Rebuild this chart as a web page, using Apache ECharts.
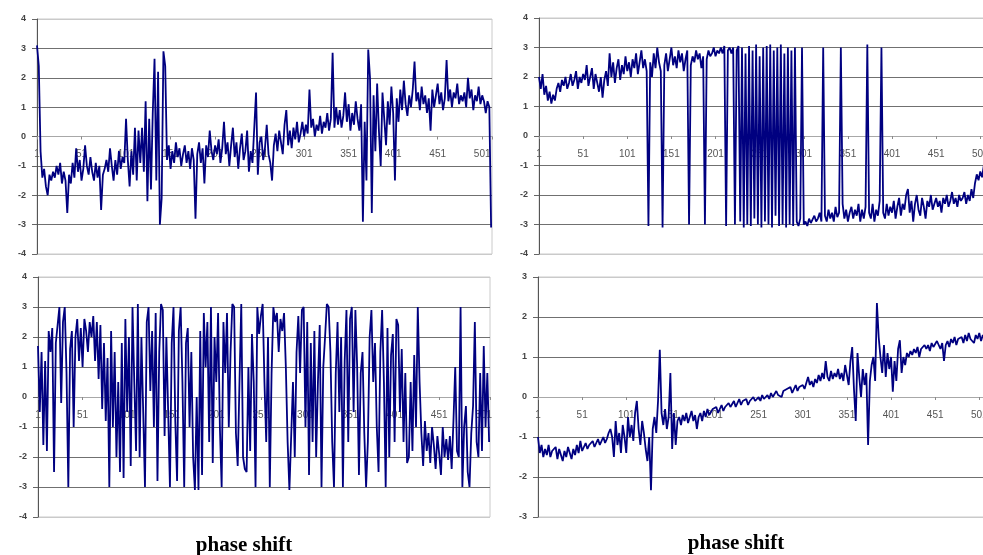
<!DOCTYPE html>
<html>
<head>
<meta charset="utf-8">
<script src="https://cdn.jsdelivr.net/npm/echarts@6/dist/echarts.min.js"></script>
<style>
html,body{margin:0;padding:0;background:#fff;}
#chart{width:983px;height:555px;}
</style>
</head>
<body>
<div id="chart"></div>
<script>
// x tick labels (category numbers), one tick every 50 samples
const xTickLabels = ['1','51','101','151','201','251','301','351','401','451','501'];
const yTicksTop = [-4,-3,-2,-1,0,1,2,3,4];
const yTicksBR = [-3,-2,-1,0,1,2,3];
const titles = ['phase shift','phase shift'];
const sampleStep = 2; // every value below is one reading per 2 samples

const topLeftValues = [
3.1,2.4,-0.5,-1.4,-1.1,-1.7,-2.0,-1.3,-1.5,-1.2,
-1.4,-1.0,-1.3,-0.9,-1.6,-1.2,-1.5,-2.6,-1.3,-1.6,
-0.9,-1.4,-0.4,-1.2,-0.8,-1.5,-1.1,-0.3,-1.0,-1.3,
-0.7,-1.2,-1.5,-0.9,-1.4,-1.0,-2.5,-1.3,-1.1,-0.8,
-1.2,-0.4,-1.0,-1.5,-0.8,-1.3,-0.5,-1.1,-0.7,-0.9,
0.6,-0.8,-1.7,-0.5,-1.3,0.3,-1.5,0.2,-0.9,0.3,
-1.2,1.2,-2.2,0.6,-1.8,0.8,2.65,-1.5,2.2,-3.0,
-2.1,2.9,2.4,-0.8,-0.3,-1.1,-0.5,-0.9,-0.2,-0.7,
-0.4,-1.0,-0.6,-0.3,-0.9,-0.5,-1.1,-0.4,-0.8,-2.8,
-0.6,-0.2,-0.9,-0.4,-1.6,-0.3,-0.7,0.2,-0.5,-0.8,
-0.3,-0.6,-0.1,-0.9,-0.4,0.5,-0.6,-0.2,-1.0,-0.3,
0.3,-0.7,-0.2,-1.1,-0.4,0.1,-0.8,-0.5,0.2,-1.2,
-0.5,-0.9,0.3,1.5,-1.3,-0.2,0.0,-0.8,-0.4,0.4,
-0.6,-0.9,-1.5,-0.3,0.1,-0.5,0.2,-0.2,-0.6,0.4,
0.9,-0.3,0.2,-0.4,0.3,-0.1,0.5,-0.2,0.1,0.5,
0.0,0.4,0.1,1.6,0.3,0.6,0.0,0.4,0.2,0.7,
0.1,0.5,0.3,0.8,0.2,0.6,2.85,0.3,1.0,0.4,
0.9,0.3,0.7,1.5,0.5,1.1,0.2,0.8,0.4,1.2,
0.6,0.2,1.1,-2.9,0.5,-1.5,2.96,2.0,-2.6,1.4,
-0.5,1.8,0.2,-1.0,1.5,0.6,-0.3,1.2,0.4,1.7,
0.8,-1.5,1.3,0.5,1.6,0.9,1.9,1.1,0.7,1.4,
1.0,1.6,2.55,1.2,1.5,0.9,1.7,1.1,1.4,0.8,
1.3,0.2,1.6,1.0,1.4,1.8,1.1,1.5,0.9,1.3,
2.6,1.2,1.6,1.0,1.5,1.3,1.8,1.1,1.4,1.2,
1.5,1.0,2.0,1.3,1.6,0.9,1.4,1.2,1.7,1.1,
1.4,1.2,0.8,1.2,1.0,-3.1
];

const topRightValues = [
2.0,1.6,2.1,1.4,1.7,1.2,1.5,1.1,1.4,1.2,
1.6,1.8,1.5,1.9,1.7,2.0,1.6,1.8,2.1,1.7,
1.9,2.2,1.6,2.0,1.8,2.1,1.9,2.4,1.7,2.0,
2.3,1.6,2.1,1.8,1.5,2.0,1.3,1.9,2.2,1.7,
2.8,2.0,2.5,1.8,2.3,2.6,1.9,2.4,2.1,2.7,
2.2,2.5,2.0,2.6,2.3,2.8,2.1,2.5,2.9,2.3,
2.6,2.2,-3.05,2.5,2.0,2.8,2.3,3.0,2.5,2.2,
-3.1,2.4,2.8,2.2,2.6,3.0,2.4,2.7,2.3,2.9,
2.5,2.8,2.2,2.6,2.9,-3.0,2.4,2.7,2.5,2.9,
2.6,2.8,2.3,2.7,-3.0,2.6,2.9,2.7,2.8,3.0,
2.7,2.9,2.8,3.0,2.8,3.05,-3.05,2.9,3.0,2.8,
3.0,-3.0,2.9,3.05,-2.9,3.0,-3.1,2.8,-3.0,3.05,
-3.05,2.9,-2.8,3.1,-3.0,2.7,-3.1,3.0,-2.9,3.05,
-3.0,3.1,-3.1,2.9,-2.7,3.0,-3.05,3.1,-3.0,2.8,
-3.1,3.0,-3.0,2.9,-3.05,3.0,-2.9,-3.05,-2.8,3.0,
-3.0,-2.9,-3.05,-2.8,-2.95,-3.0,-2.7,-2.9,-2.8,-2.6,
-2.9,3.0,-2.7,-2.9,-2.5,-2.8,-2.6,-2.9,-2.4,-2.75,
-2.6,3.0,-2.3,-2.8,-2.5,-2.9,-2.6,-2.4,-2.8,-2.5,
-2.7,-2.3,-2.9,-2.5,-2.8,-2.4,3.1,-2.6,-2.8,-2.3,
-2.9,-2.5,-2.7,-2.2,3.0,-2.6,-2.8,-2.3,-2.7,-2.4,
-2.6,-2.2,-2.8,-2.4,-2.1,-2.7,-2.3,-2.5,-2.0,-1.8,
-2.6,-2.2,-2.9,-2.3,-2.0,-2.5,-2.7,-2.1,-2.4,-2.8,
-2.2,-2.4,-2.0,-2.5,-2.3,-2.1,-2.4,-2.2,-2.6,-2.1,
-2.3,-2.0,-2.4,-2.2,-1.9,-2.3,-2.1,-2.4,-2.0,-2.2,
-2.1,-1.9,-2.3,-2.0,-2.2,-1.8,-2.1,-1.6,-1.3,-1.5,
-1.2,-1.4,-1.0,-1.3,-1.1,-1.2
];

const bottomLeftValues = [
1.7,-0.5,1.5,-1.6,1.2,-1.8,2.2,1.5,2.3,-2.5,
1.8,2.4,3.0,-0.2,2.5,3.0,0.8,-3.0,1.6,2.2,
-1.0,2.0,2.6,1.2,2.3,1.0,2.6,2.2,1.5,2.5,
2.0,2.7,1.2,2.5,0.6,2.4,-0.4,1.8,-0.8,1.3,
-3.0,2.2,-1.0,1.5,-2.0,0.5,-2.5,1.8,-2.7,2.6,
-0.5,2.0,-2.3,3.0,0.5,-1.8,3.1,-2.0,2.0,-0.5,
-3.0,2.5,3.0,0.2,2.2,-1.0,2.8,-2.8,1.5,3.1,
2.9,-1.3,2.0,-0.5,-3.0,1.8,3.0,-0.8,-2.8,2.2,
3.0,0.5,-3.0,1.8,2.3,-1.0,1.5,-2.0,-3.1,0.0,
-3.1,2.2,-2.6,2.8,1.0,2.5,-1.5,3.0,-2.2,2.0,
0.5,2.8,-1.0,-3.0,2.5,0.8,2.8,-1.0,1.5,3.1,
3.0,-1.2,-2.3,0.5,3.1,-2.0,-2.4,-2.5,1.0,-1.8,
2.1,0.5,-3.0,3.0,2.1,2.7,3.1,0.5,-1.5,2.0,
-3.0,0.8,3.0,2.5,2.8,1.5,2.6,2.2,2.8,1.0,
-1.5,-3.1,-3.1,0.5,-2.0,1.5,2.7,0.8,2.9,3.0,
-1.0,2.5,-2.6,1.8,-1.5,2.2,-2.0,0.5,2.4,-3.0,
1.0,2.0,3.1,3.0,1.5,-1.5,-3.0,0.8,2.5,-0.5,
2.0,-3.0,1.2,2.9,-1.5,2.6,3.0,-0.5,2.9,1.0,
-2.6,0.8,1.5,-1.2,-3.0,-1.5,2.0,2.9,0.5,1.8,
-1.0,-2.5,1.5,2.9,0.5,-3.0,2.3,-2.0,1.4,2.1,
-1.5,2.6,2.4,-0.5,1.6,-1.5,0.8,-2.2,-2.0,0.5,
-1.8,1.4,-1.0,3.0,0.5,-1.2,-2.3,-0.8,-1.8,-1.2,
-2.2,-1.0,-1.6,-2.4,-1.3,-1.9,-2.6,-1.0,-2.0,-1.4,
-2.1,-1.3,-2.4,-0.8,1.0,-1.8,-2.0,3.0,-3.0,-1.0,
-0.3,-2.5,-3.0,-1.2,-0.3,2.5,-1.5,-2.0,0.8,-1.8,
1.7,-1.0,0.8,-1.5
];

const bottomRightValues = [
-1.0,-1.4,-1.2,-1.5,-1.3,-1.45,-1.2,-1.5,-1.35,-1.4,
-1.25,-1.55,-1.3,-1.45,-1.6,-1.35,-1.5,-1.25,-1.4,-1.55,
-1.3,-1.45,-1.2,-1.4,-1.1,-1.35,-1.25,-1.15,-1.3,-1.2,
-1.2,-1.1,-1.25,-1.15,-1.05,-1.2,-1.1,-1.0,-1.15,-1.05,
-0.9,-0.8,-1.0,-1.5,-0.6,-1.2,-0.9,-1.4,-0.7,-1.0,
-1.4,-0.5,-1.0,-0.7,-1.1,-0.4,-0.1,-0.8,-1.2,-0.6,
-0.9,-1.3,-1.6,-1.0,-2.33,-0.8,-0.5,-0.9,-0.1,1.18,
-0.4,-0.7,-0.3,-0.8,-0.5,0.6,-1.3,-0.4,-1.2,-0.6,
-0.5,-0.7,-0.45,-0.6,-0.4,-0.65,-0.5,-0.35,-0.6,-0.45,
-0.8,-0.5,-0.4,-0.6,-0.35,-0.5,-0.3,-0.45,-0.4,-0.3,
-0.35,-0.25,-0.4,-0.3,-0.2,-0.35,-0.25,-0.3,-0.15,-0.25,
-0.2,-0.1,-0.25,-0.15,-0.05,-0.2,-0.1,-0.15,-0.05,-0.2,
-0.1,-0.15,0.0,-0.1,-0.05,0.0,-0.1,0.05,-0.05,0.0,
0.05,-0.05,0.1,0.0,0.05,0.15,0.05,0.1,0.0,0.15,
0.1,0.2,0.15,0.25,0.1,0.2,0.3,0.15,0.25,0.2,
0.3,0.2,0.35,0.5,0.3,0.4,0.25,0.45,0.35,0.55,
0.4,0.6,0.45,0.9,0.5,0.4,0.65,0.45,0.6,0.5,
0.7,0.45,0.6,0.4,0.8,0.55,0.3,0.9,1.25,0.2,
-0.6,1.1,0.5,0.0,0.7,0.3,0.6,-1.2,0.4,0.8,
1.0,0.4,2.35,1.5,1.0,0.6,1.3,0.5,1.1,0.7,
1.0,0.13,0.9,0.4,1.2,1.42,0.6,1.0,0.8,1.1,
1.0,1.15,1.05,1.2,1.1,1.25,1.0,1.2,1.15,1.3,
1.2,1.3,1.15,1.35,1.25,1.2,1.4,1.3,1.2,1.35,
0.9,1.3,1.4,1.25,1.45,1.35,1.5,1.3,1.45,1.4,
1.5,1.35,1.55,1.4,1.6,1.45,1.5,1.35,1.55,1.45,
1.6,1.4,1.55,1.45,1.5,1.4
];

const chart = echarts.init(document.getElementById('chart'), null, {renderer:'canvas'});

const GRID_DARK = '#707070';
const GRID_LIGHT = '#cacaca';
const LINE_COLOR = '#000080';

function splitColors(ticks){
  return ticks.map((t,i) => (i === 0 || i === ticks.length-1) ? GRID_LIGHT : GRID_DARK);
}

const panels = [
  {values: topLeftValues,    grid:{left:37,  top:19,  width:455, height:235}, xMax:511, yTicks:yTicksTop},
  {values: topRightValues,   grid:{left:539, top:18,  width:451, height:236}, xMax:511, yTicks:yTicksTop},
  {values: bottomLeftValues, grid:{left:38,  top:277, width:452, height:240}, xMax:507, yTicks:yTicksTop},
  {values: bottomRightValues,grid:{left:538, top:277, width:451, height:240}, xMax:511, yTicks:yTicksBR}
];

const option = {
  animation:false,
  backgroundColor:'#fff',
  grid: panels.map(p => Object.assign({show:true, borderColor:GRID_LIGHT, borderWidth:1,
    backgroundColor:'transparent', containLabel:false, outerBoundsMode:'none'}, p.grid)),
  xAxis: panels.map((p,i) => {
    const lo = p.yTicks[0], hi = p.yTicks[p.yTicks.length-1];
    return {
      type:'value', gridIndex:i, min:0, max:p.xMax, interval:50, position:'bottom', z:0,
      offset: -p.grid.height * (0 - lo) / (hi - lo),
      axisLine:{show:true, onZero:false, lineStyle:{color:'#a8a8a8', width:1}},
      axisTick:{show:true, length:3, lineStyle:{color:'#8a8a8a'}},
      axisLabel:{show:true, margin:13, fontSize:10, fontFamily:'Liberation Sans', color:'#555',
        formatter: v => (v % 50 === 0 && xTickLabels[v/50] !== undefined) ? xTickLabels[v/50] : ''},
      splitLine:{show:false}
    };
  }),
  yAxis: panels.map((p,i) => ({
    type:'value', gridIndex:i, min:p.yTicks[0], max:p.yTicks[p.yTicks.length-1], interval:1,
    axisLine:{show:true, onZero:false, lineStyle:{color:'#555', width:1}},
    axisTick:{show:true, length:5, lineStyle:{color:'#666'}},
    axisLabel:{show:true, margin:11, fontSize:9, fontWeight:'bold', fontFamily:'Liberation Sans', color:'#444'},
    splitLine:{show:true, lineStyle:{color:splitColors(p.yTicks), width:1}}
  })),
  series: panels.map((p,i) => ({
    type:'line', xAxisIndex:i, yAxisIndex:i, z:5,
    data: p.values.map((v,k) => [k*sampleStep, v]),
    showSymbol:false, symbol:'none',
    lineStyle:{color:LINE_COLOR, width:1.8},
    clip:true
  })),
  graphic: [
    {type:'text', z:10, style:{text:titles[0], x:244, y:546, textAlign:'center', textVerticalAlign:'middle',
      fontFamily:'Liberation Serif', fontWeight:'bold', fontSize:21, fill:'#000'}},
    {type:'text', z:10, style:{text:titles[1], x:736, y:544, textAlign:'center', textVerticalAlign:'middle',
      fontFamily:'Liberation Serif', fontWeight:'bold', fontSize:21, fill:'#000'}}
  ]
};
chart.setOption(option);
</script>
</body>
</html>
